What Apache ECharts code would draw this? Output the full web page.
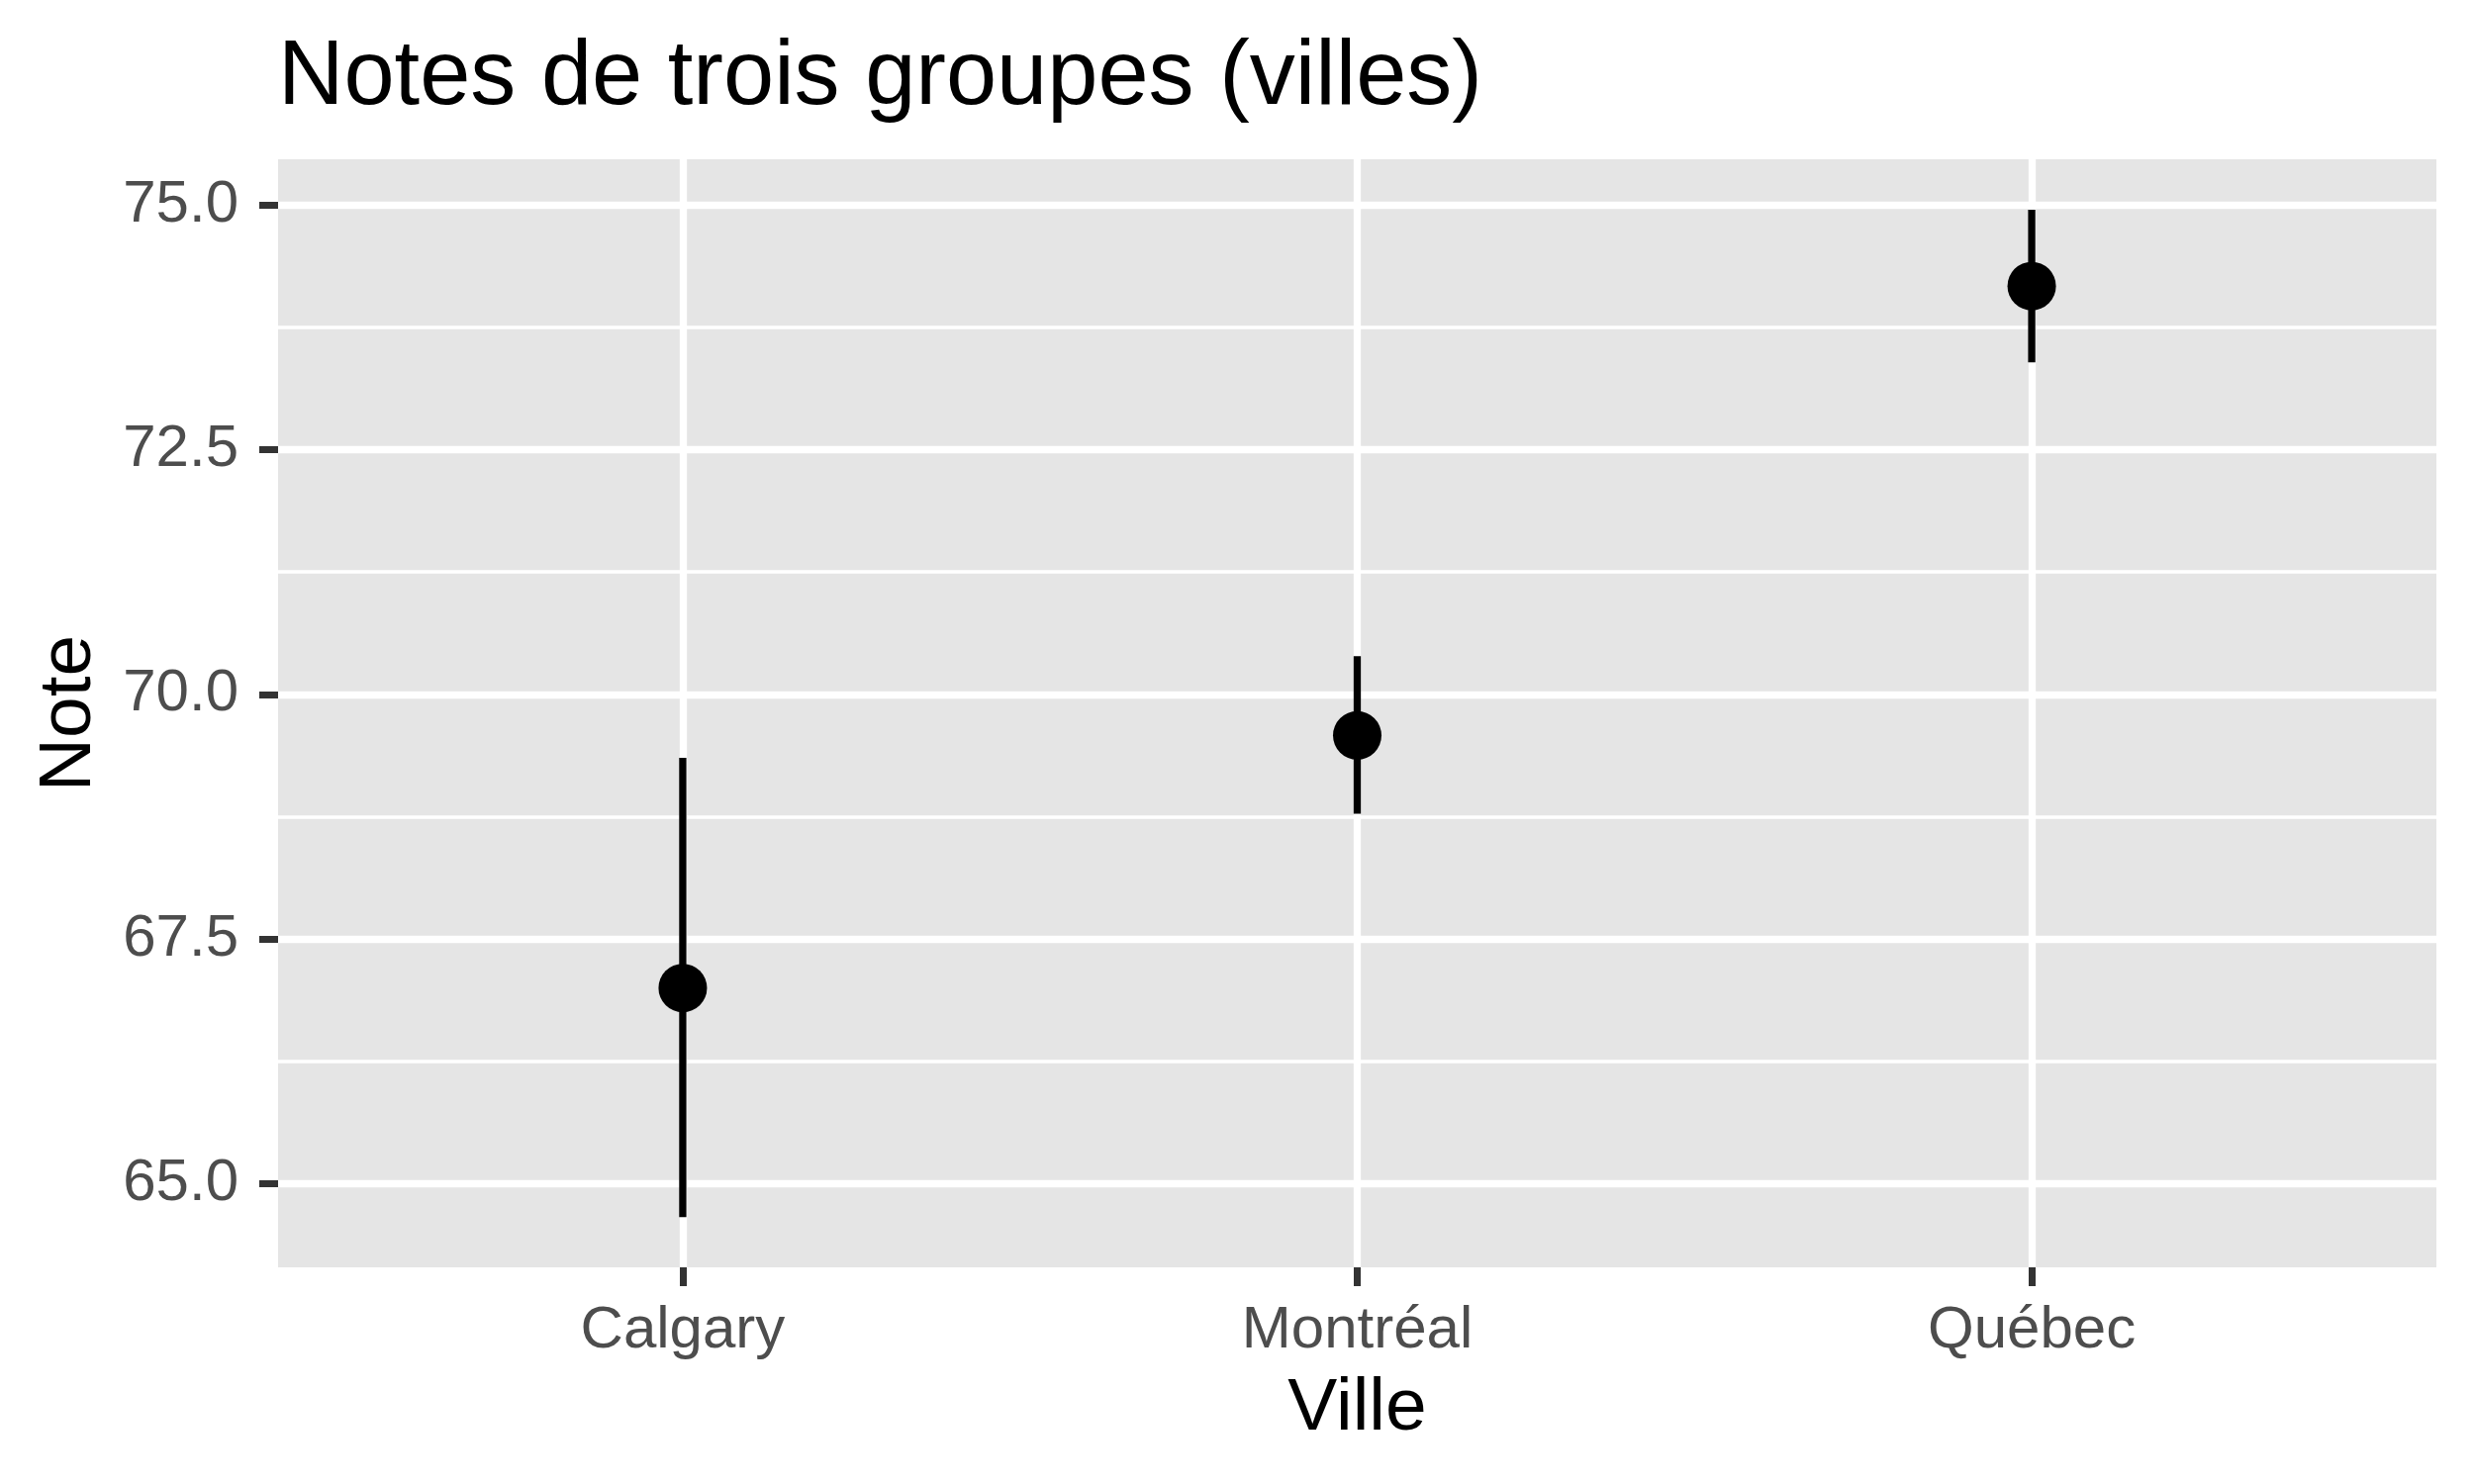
<!DOCTYPE html>
<html>
<head>
<meta charset="utf-8">
<script src="https://cdn.jsdelivr.net/npm/echarts@6/dist/echarts.min.js"></script>
<style>
  html, body { margin: 0; padding: 0; background: #ffffff; }
  #chart { width: 2500px; height: 1500px; }
</style>
</head>
<body>
<div id="chart"></div>
<script>
// ---- data ----
const categories = ['Calgary', 'Montréal', 'Québec'];
const means = [67.0, 69.58, 74.17];
const lower = [64.66, 68.78, 73.39];
const upper = [69.35, 70.39, 74.95];
const yTickValues = [65, 67.5, 70, 72.5, 75];
const yTickLabels = ['65.0', '67.5', '70.0', '72.5', '75.0'];
const titleText = 'Notes de trois groupes (villes)';
const xTitle = 'Ville';
const yTitle = 'Note';

// ---- layout ----
const W = 2500, H = 1500;
const panel = { left: 281, right: 2462, top: 161, bottom: 1281 };
const yDomain = [64.147, 75.465];      // panel y limits (data units)
const xExpand = 0.6;                   // discrete expansion (category units)
const FONT = '"Liberation Sans", Arial, Helvetica, sans-serif';

const pxPerY = (panel.bottom - panel.top) / (yDomain[1] - yDomain[0]);
const yMajorMin = yTickValues[0], yMajorMax = yTickValues[yTickValues.length - 1];
const yTopPx = panel.top + (yDomain[1] - yMajorMax) * pxPerY;
const yBotPx = panel.bottom - (yMajorMin - yDomain[0]) * pxPerY;
const nCat = categories.length;
const catUnit = (panel.right - panel.left) / (nCat - 1 + 2 * xExpand);
const catLeftPx = panel.left + xExpand * catUnit;
const catRightPx = panel.right - xExpand * catUnit;

const scatterData = means.map((m, i) => [categories[i], m]);
const errData = categories.map((c, i) => [c, lower[i], upper[i]]);

const chart = echarts.init(document.getElementById('chart'), null, { renderer: 'canvas' });

const hiddenValue = (gridIndex) => ({ type: 'value', gridIndex, show: false });

chart.setOption({
  backgroundColor: '#ffffff',
  animation: false,
  title: {
    text: titleText,
    left: panel.left - 5,
    top: 29,
    textStyle: { fontFamily: FONT, fontSize: 92, fontWeight: 'normal', color: '#000000' }
  },
  grid: [
    { left: panel.left, width: panel.right - panel.left, top: panel.top, height: panel.bottom - panel.top,
      show: true, backgroundColor: '#E5E5E5', borderWidth: 0, z: -1 },
    { left: catLeftPx, width: catRightPx - catLeftPx, top: panel.top, height: panel.bottom - panel.top, show: false },
    { left: panel.left, width: panel.right - panel.left, top: yTopPx, height: yBotPx - yTopPx, show: false },
    { left: catLeftPx, width: catRightPx - catLeftPx, top: yTopPx, height: yBotPx - yTopPx, show: false }
  ],
  xAxis: [
    hiddenValue(0),
    {
      type: 'category', gridIndex: 1, data: categories, boundaryGap: false, z: 1,
      axisLine: { show: false },
      axisTick: { show: true, inside: false, length: 19, lineStyle: { color: '#333333', width: 7 } },
      axisLabel: { show: true, margin: 34, fontFamily: FONT, fontSize: 60, color: '#4D4D4D' },
      splitLine: { show: true, lineStyle: { color: '#ffffff', width: 7.3 } },
      name: xTitle, nameLocation: 'middle', nameGap: 106,
      nameTextStyle: { fontFamily: FONT, fontSize: 75, color: '#000000' }
    },
    hiddenValue(2),
    { type: 'category', gridIndex: 3, data: categories, boundaryGap: false, show: false }
  ],
  yAxis: [
    {
      type: 'value', gridIndex: 0, min: 0, max: 1,
      axisLine: { show: false }, axisTick: { show: false }, axisLabel: { show: false },
      splitLine: { show: false },
      name: yTitle, nameLocation: 'middle', nameGap: 173, nameRotate: 90,
      nameTextStyle: { fontFamily: FONT, fontSize: 75, color: '#000000' }
    },
    hiddenValue(1),
    {
      type: 'value', gridIndex: 2, min: yMajorMin, max: yMajorMax, interval: 2.5, z: 1,
      axisLine: { show: false },
      axisTick: { show: true, inside: false, length: 19, lineStyle: { color: '#333333', width: 7 } },
      axisLabel: {
        show: true, margin: 40, fontFamily: FONT, fontSize: 60, color: '#4D4D4D',
        formatter: (v) => { const k = yTickValues.indexOf(v); return k >= 0 ? yTickLabels[k] : ''; }
      },
      splitLine: { show: true, lineStyle: { color: '#ffffff', width: 7.3 } },
      minorTick: { show: false, splitNumber: 2 },
      minorSplitLine: { show: true, lineStyle: { color: '#ffffff', width: 3.7 } }
    },
    { type: 'value', gridIndex: 3, min: yMajorMin, max: yMajorMax, show: false }
  ],
  series: [
    {
      type: 'custom', xAxisIndex: 3, yAxisIndex: 3, z: 5, clip: false,
      data: errData,
      encode: { x: 0, y: [1, 2] },
      renderItem: function (params, api) {
        const x = api.value(0);
        const p1 = api.coord([x, api.value(1)]);
        const p2 = api.coord([x, api.value(2)]);
        return {
          type: 'line',
          shape: { x1: p1[0], y1: p1[1], x2: p2[0], y2: p2[1] },
          style: { stroke: '#000000', lineWidth: 7.3, lineCap: 'butt' }
        };
      }
    },
    {
      type: 'scatter', xAxisIndex: 3, yAxisIndex: 3, z: 6, clip: false,
      data: scatterData, symbol: 'circle', symbolSize: 49,
      itemStyle: { color: '#000000', opacity: 1 }
    }
  ]
});
</script>
</body>
</html>
